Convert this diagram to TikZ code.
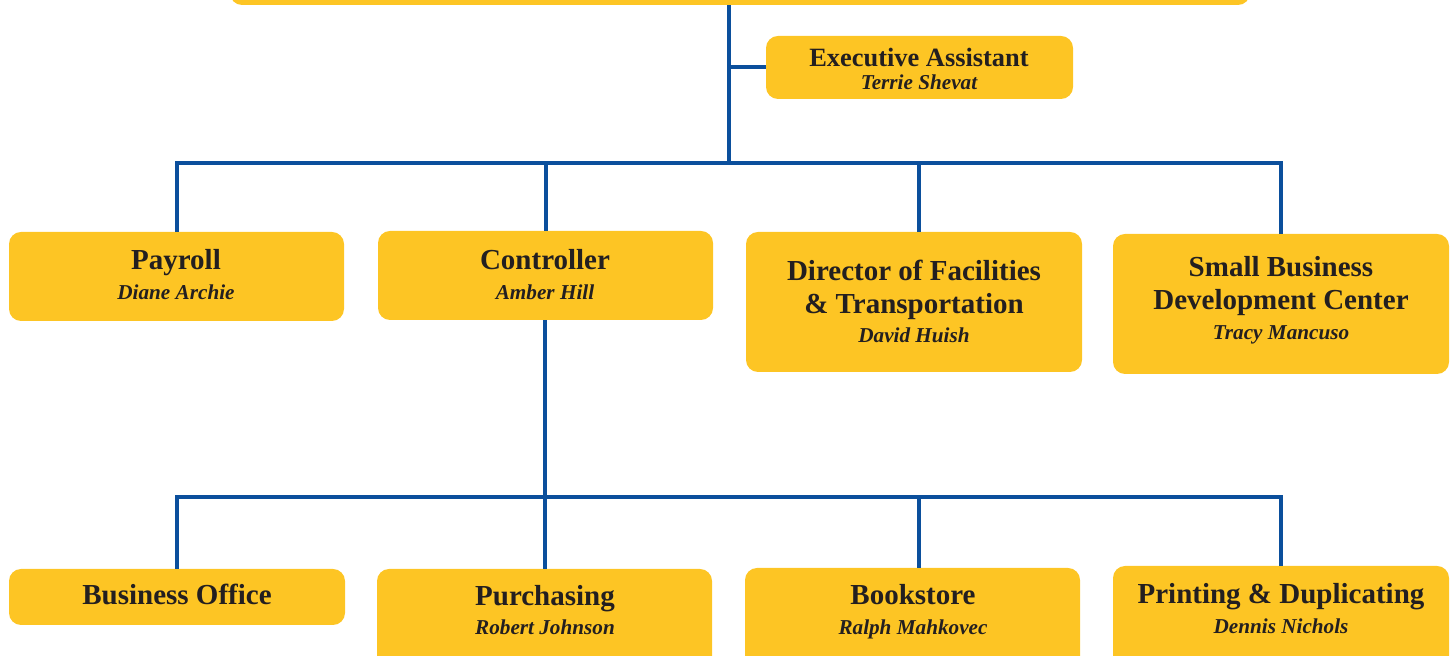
\documentclass[tikz,border=0pt]{standalone}
\usepackage{fontspec}
\setmainfont{Liberation Serif}
\usepackage{tikz}
\usetikzlibrary{positioning, calc, fit}
\definecolor{boxyellow}{HTML}{FDC524}
\definecolor{lineblue}{HTML}{0B4F9C}
\definecolor{inkgray}{HTML}{231F20}
\tikzstyle{unitbox}=[rectangle,rounded corners=6pt,fill=boxyellow,draw=none,inner sep=0pt]
\tikzstyle{titletext}=[anchor=base,inner sep=0pt,text=inkgray,font=\fontsize{14.5}{16}\selectfont\bfseries]
\tikzstyle{nametext}=[anchor=base,inner sep=0pt,text=inkgray,font=\fontsize{10.6}{12}\selectfont\bfseries\itshape]
\tikzstyle{link}=[draw=lineblue,line width=2pt]

\begin{document}
\begin{tikzpicture}[x=0.5pt, y=-0.5pt]
    \useasboundingbox (0,0) rectangle (1452,656);

    % boxes
    \node[unitbox, fit={(230,-40) (1250,5)}] (top) {};
    \node[unitbox, fit={(766,36) (1073,99)}] (exec) {};
    \node[unitbox, fit={(9,232) (344,321)}] (payroll) {};
    \node[unitbox, fit={(378,231) (713,320)}] (ctrl) {};
    \node[unitbox, fit={(746,232) (1082,372)}] (dir) {};
    \node[unitbox, fit={(1113,234) (1449,374)}] (sbdc) {};
    \node[unitbox, fit={(9,569) (345,625)}] (busoff) {};
    \node[unitbox, fit={(377,569) (712,690)}] (purch) {};
    \node[unitbox, fit={(745,568) (1080,690)}] (book) {};
    \node[unitbox, fit={(1113,566) (1449,690)}] (print) {};

    % texts
    \node[titletext, font=\fontsize{13.2}{15}\selectfont\bfseries] (execT) at (919,67) {Executive Assistant};
    \node[nametext] (execN) at (919,90) {Terrie Shevat};
    \node[titletext] (payrollT) at (176,270) {Payroll};
    \node[nametext] (payrollN) at (176,300) {Diane Archie};
    \node[titletext] (ctrlT) at (545,270) {Controller};
    \node[nametext] (ctrlN) at (545,300) {Amber Hill};
    \node[titletext] (dirT1) at (914,281) {Director of Facilities};
    \node[titletext] (dirT2) at (914,314) {\& Transportation};
    \node[nametext] (dirN) at (914,343) {David Huish};
    \node[titletext] (sbdcT1) at (1281,277) {Small Business};
    \node[titletext] (sbdcT2) at (1281,310) {Development Center};
    \node[nametext] (sbdcN) at (1281,340) {Tracy Mancuso};
    \node[titletext] (busoffT) at (177,605) {Business Office};
    \node[titletext] (purchT) at (545,606) {Purchasing};
    \node[nametext] (purchN) at (545,635) {Robert Johnson};
    \node[titletext] (bookT) at (913,605) {Bookstore};
    \node[nametext] (bookN) at (913,635) {Ralph Mahkovec};
    \node[titletext] (printT) at (1281,604) {Printing \& Duplicating};
    \node[nametext] (printN) at (1281,634) {Dennis Nichols};

    % junctions
    \coordinate (j0) at (729,163);
    \coordinate (j1) at (545,497);
    \coordinate (dirtop) at (919,232);
    \coordinate (booktop) at (919,568);

    % connectors
    \draw[link] (top.south -| j0) -- (j0);
    \draw[link] (exec.west) -- (exec.west -| j0);
    \draw[link] (payroll.north) -- (payroll.north |- j0) -- (sbdc.north |- j0) -- (sbdc.north);
    \draw[link] (ctrl.north) -- (ctrl.north |- j0);
    \draw[link] (dirtop) -- (dirtop |- j0);
    \draw[link] (ctrl.south -| j1) -- (j1);
    \draw[link] (busoff.north) -- (busoff.north |- j1) -- (print.north |- j1) -- (print.north);
    \draw[link] (purch.north -| j1) -- (j1);
    \draw[link] (booktop) -- (booktop |- j1);
\end{tikzpicture}
\end{document}
